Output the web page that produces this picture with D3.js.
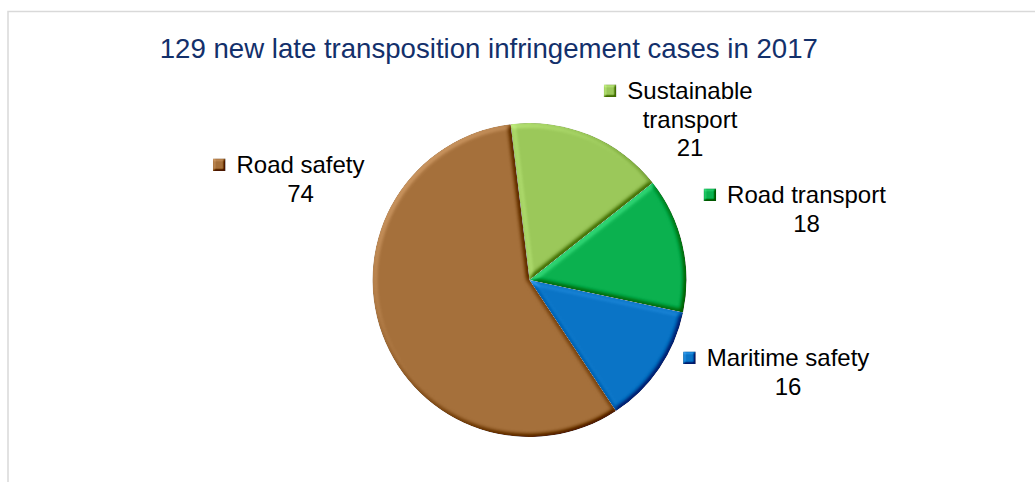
<!DOCTYPE html>
<html>
<head>
<meta charset="utf-8">
<script src="https://cdn.jsdelivr.net/npm/d3@7"></script>
<style>
  html, body { margin: 0; padding: 0; background: #ffffff; }
  svg { display: block; }
  text { font-family: "Liberation Sans", Arial, sans-serif; }
</style>
</head>
<body>
<svg id="chart" width="1035" height="482"></svg>
<script>
// Late transposition infringement cases opened in 2017, by policy area
const categories = ["Sustainable transport", "Road transport", "Maritime safety", "Road safety"];
const values = [21, 18, 16, 74];
const colors = ["#9bc85a", "#0bb14f", "#0a74c6", "#a5703b"];
// label lines (category name split for display)
const labelLines = [["Sustainable", "transport"], ["Road transport"], ["Maritime safety"], ["Road safety"]];
const titleText = "129 new late transposition infringement cases in 2017";

const W = 1035, H = 482;
const svg = d3.select("#chart");

// bevel lighting filter used by slices and legend keys
const defs = svg.append("defs");
function bevel(id, blur, scale, k) {
  const f = defs.append("filter").attr("id", id)
    .attr("x", "-5%").attr("y", "-5%").attr("width", "110%").attr("height", "110%")
    .attr("color-interpolation-filters", "sRGB");
  f.append("feGaussianBlur").attr("in", "SourceAlpha").attr("stdDeviation", blur).attr("result", "b");
  const dl = f.append("feDiffuseLighting").attr("in", "b").attr("surfaceScale", scale)
    .attr("diffuseConstant", 1).attr("lighting-color", "#ffffff").attr("result", "light");
  dl.append("feDistantLight").attr("azimuth", 225).attr("elevation", 45);
  f.append("feComposite").attr("in", "SourceGraphic").attr("in2", "light")
    .attr("operator", "arithmetic").attr("k1", 0).attr("k2", 1).attr("k3", k).attr("k4", -k * 0.7071)
    .attr("result", "lit");
  f.append("feComposite").attr("in", "lit").attr("in2", "SourceAlpha").attr("operator", "in");
}
bevel("bevelPie", 2.5, 4, 0.45);
bevel("bevelKey", 1.2, 3, 0.5);

// chart frame
svg.append("rect")
  .attr("x", 8).attr("y", 11.5).attr("width", W + 50).attr("height", H + 50)
  .attr("fill", "none").attr("stroke", "#d9d9d9").attr("stroke-width", 1.5);

// title
svg.append("text")
  .attr("x", 488.8).attr("y", 57.5)
  .attr("text-anchor", "middle")
  .attr("font-size", 27.6)
  .attr("fill", "#13306b")
  .text(titleText);

// pie
const cx = 529.5, cy = 280, R = 157;
const start = -6.9 * Math.PI / 180;
const pie = d3.pie().sort(null).value(d => d)
  .startAngle(start).endAngle(start + 2 * Math.PI);
const arc = d3.arc().innerRadius(0).outerRadius(R);
const arcs = pie(values);

const g = svg.append("g").attr("transform", `translate(${cx},${cy})`);
g.selectAll("path.slice")
  .data(arcs)
  .join("path")
  .attr("class", "slice")
  .attr("d", arc)
  .attr("fill", (d, i) => colors[i])
  .attr("filter", "url(#bevelPie)");

// data labels: legend key + category name + value, centred on anchor
const labelAnchor = [
  { x: 690, y: 99 },
  { x: 806.5, y: 203 },
  { x: 788, y: 366 },
  { x: 300.5, y: 173 }
];
const lineH = 28.5, fs = 24;
const labels = svg.append("g");
arcs.forEach((a, i) => {
  const pos = labelAnchor[i];
  const lines = labelLines[i].concat([String(values[i])]);
  let firstW = 0;
  lines.forEach((ln, j) => {
    const t = labels.append("text")
      .attr("x", pos.x).attr("y", pos.y + j * lineH)
      .attr("text-anchor", "middle")
      .attr("font-size", fs)
      .attr("fill", "#000000")
      .text(ln);
    if (j === 0) firstW = t.node().getComputedTextLength();
  });
  const ks = 12.5;
  labels.append("rect")
    .attr("x", pos.x - firstW / 2 - 11 - ks)
    .attr("y", pos.y - 14.5)
    .attr("width", ks).attr("height", ks)
    .attr("fill", colors[i])
    .attr("filter", "url(#bevelKey)");
});
</script>
</body>
</html>
